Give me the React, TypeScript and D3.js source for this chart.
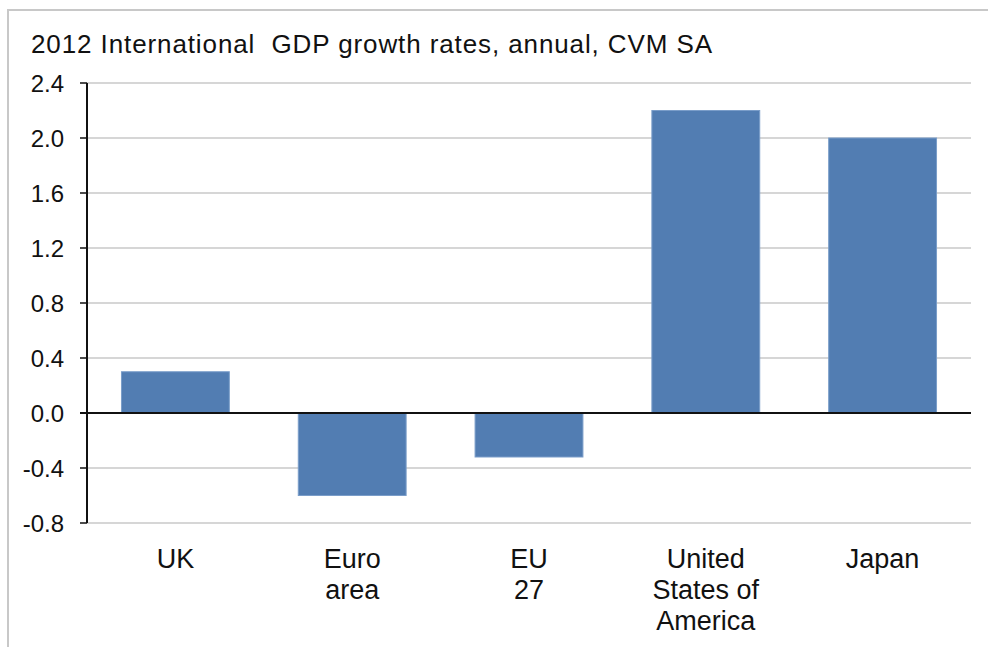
import React from "react";
import * as d3 from "d3";

const title = "2012 International  GDP growth rates, annual, CVM SA";
const categories = ["UK", "Euro area", "EU 27", "United States of America", "Japan"];
const categoryLines = [["UK"], ["Euro", "area"], ["EU", "27"], ["United", "States of", "America"], ["Japan"]];
const values = [0.3, -0.6, -0.32, 2.2, 2.0];
const yTicks = [-0.8, -0.4, 0.0, 0.4, 0.8, 1.2, 1.6, 2.0, 2.4];

export default function App() {
  const W = 988, H = 647;
  const left = 87, right = 971, top = 83, bottom = 523;
  const x = d3.scaleBand<string>().domain(categories).range([left, right]).paddingInner(0.39).paddingOuter(0.195);
  const y = d3.scaleLinear().domain([-0.8, 2.4]).range([bottom, top]);
  const font = "'Liberation Sans', Arial, sans-serif";
  return (
    <svg width={W} height={H} style={{ position: "fixed", left: 0, top: 0, display: "block", background: "#fff" }}>
      <rect x={8} y={10} width={W + 20} height={H + 20} fill="#fff" stroke="#c8c8c8" strokeWidth={2} />
      <text x={31} y={53} fontFamily={font} fontSize={26} fill="#111" textLength={681} lengthAdjust="spacing" style={{ whiteSpace: "pre" }}>{title}</text>
      {yTicks.map((t) => (
        <g key={t}>
          {t !== 0 && <line x1={left} x2={right} y1={y(t)} y2={y(t)} stroke="#c8c8c8" strokeWidth={1.5} />}
          <line x1={left - 7} x2={left} y1={y(t)} y2={y(t)} stroke="#111" strokeWidth={1.5} />
          <text x={64} y={y(t)} dy="0.36em" textAnchor="end" fontFamily={font} fontSize={24} fill="#111">{t.toFixed(1)}</text>
        </g>
      ))}
      {categories.map((c, i) => {
        const v = values[i];
        const y0 = y(Math.max(0, v));
        const h = Math.abs(y(v) - y(0));
        return <rect key={c} x={x(c)} y={y0} width={x.bandwidth()} height={h} fill="#527db2" stroke="#7a9dc9" strokeWidth={1} />;
      })}
      <line x1={left - 7} x2={right} y1={y(0)} y2={y(0)} stroke="#111" strokeWidth={2} />
      <line x1={left} x2={left} y1={top} y2={bottom} stroke="#111" strokeWidth={2} />
      {categories.map((c, i) => (
        <text key={c} textAnchor="middle" fontFamily={font} fontSize={27} fill="#111">
          {categoryLines[i].map((ln, j) => (
            <tspan key={j} x={(x(c) as number) + x.bandwidth() / 2} y={568 + j * 31}>{ln}</tspan>
          ))}
        </text>
      ))}
    </svg>
  );
}
